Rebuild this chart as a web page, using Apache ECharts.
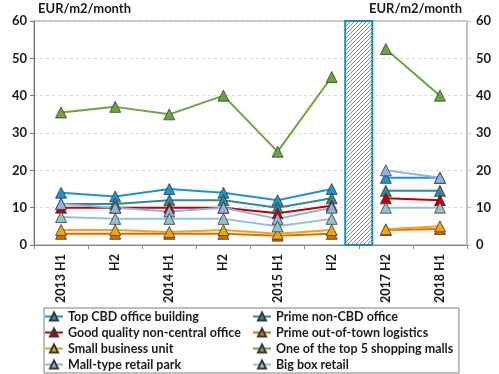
<!DOCTYPE html>
<html><head><meta charset="utf-8">
<script src="https://cdn.jsdelivr.net/npm/echarts@6/dist/echarts.min.js"></script>
<style>html,body{margin:0;padding:0;background:#fff}#c{width:499px;height:374px}</style>
</head><body><div id="c"></div>
<script>
const categories = ['2013 H1','H2','2014 H1','H2','2015 H1','H2','2017 H2','2018 H1'];
const yTicks = [0,10,20,30,40,50,60];
const unitLabel = 'EUR/m2/month';
// values per category; first 6 = 2013 H1..2015 H2, last 2 = 2017 H2, 2018 H1
const topCBD        = [14, 13, 15, 14, 12, 15, 18, 18];
const primeNonCBD   = [11, 11, 12, 12, 10, 12.5, 14.5, 14.5];
const goodQuality   = [10, 10, 10, 10, 8.5, 10.5, 12.5, 12];
const logistics     = [3, 3, 3, 3, 2.5, 3, 4, 4.3];
const smallBusiness = [4, 4, 3.5, 4, 3, 4, 4.2, 5];
const shoppingMalls = [35.5, 37, 35, 40, 25, 45, 52.5, 40];
const retailPark    = [11, 10, 9, 10, 7, 10, 20, 18];
const bigBox        = [7.5, 7, 7, 7, 5, 7, 10, 10];
const breakAfterIndex = 5; // gap between 2015 H2 and 2017 H2
const breakHeight = 60;

const seriesDefs = [
  ['Top CBD office building', topCBD, '#1a94d2'],
  ['Prime non-CBD office', primeNonCBD, '#36878f'],
  ['Good quality non-central office', goodQuality, '#c00000'],
  ['Prime out-of-town logistics', logistics, '#e06c08'],
  ['Small business unit', smallBusiness, '#eda516'],
  ['One of the top 5 shopping malls', shoppingMalls, '#66a83a'],
  ['Mall-type retail park', retailPark, '#8db4e2'],
  ['Big box retail', bigBox, '#94c2cc']
];

const series = [];
seriesDefs.forEach(([name, vals, color]) => {
  const left = vals.map((v, i) => i <= breakAfterIndex ? v : null);
  const right = vals.map((v, i) => i > breakAfterIndex ? v : null);
  [left, right].forEach(d => {
    series.push({
      name, type: 'line', data: d, yAxisIndex: 0,
      symbol: 'triangle', symbolSize: 11,
      lineStyle: { color, width: 2 },
      itemStyle: { color, borderColor: '#3a3a3a', borderWidth: 0.8 },
      connectNulls: false, animation: false
    });
  });
});

// hatched pattern
const pc = document.createElement('canvas');
pc.width = 4; pc.height = 4;
const g = pc.getContext('2d');
g.fillStyle = '#fff'; g.fillRect(0,0,4,4);
g.strokeStyle = '#8a8a8a'; g.lineWidth = 1;
g.beginPath();
g.moveTo(0,4); g.lineTo(4,0);
g.moveTo(-2,2); g.lineTo(2,-2);
g.moveTo(2,6); g.lineTo(6,2);
g.stroke();

series.push({
  type: 'custom', yAxisIndex: 0, z: 5, animation: false,
  data: [[breakAfterIndex, breakHeight]],
  renderItem: (params, api) => {
    const i = api.value(0);
    const top = api.coord([i, api.value(1)]);
    const nxt = api.coord([i + 1, 0]);
    const bw = api.size([1, 0])[0];
    const mid = (top[0] + nxt[0]) / 2;
    return {
      type: 'rect',
      shape: { x: mid - bw / 4, y: top[1], width: bw / 2, height: nxt[1] - top[1] },
      style: { fill: { image: pc, repeat: 'repeat' }, stroke: '#1f8ac0', lineWidth: 2 }
    };
  }
});

const font = 'Lato';
const leftNames = seriesDefs.filter((_, i) => i % 2 === 0).map(d => d[0]);
const rightNames = seriesDefs.filter((_, i) => i % 2 === 1).map(d => d[0]);
const legendCommon = {
  orient: 'vertical', itemWidth: 18, itemHeight: 10, itemGap: 3,
  textStyle: { fontFamily: font, fontWeight: 'bold', fontSize: 12.5, color: '#1a1a1a', lineHeight: 13 }
};

const chart = echarts.init(document.getElementById('c'), null, { renderer: 'canvas' });
chart.setOption({
  animation: false,
  grid: { left: 34, right: 32, top: 21, bottom: 129, show: true, borderColor: '#8a8a8a', borderWidth: 1 },
  xAxis: {
    type: 'category', data: categories, boundaryGap: true,
    axisLine: { lineStyle: { color: '#8a8a8a' } },
    axisTick: { show: true, length: 4, lineStyle: { color: '#8a8a8a' } },
    axisLabel: { rotate: 90, margin: 9, fontFamily: font, fontWeight: 'bold', fontSize: 12.5, color: '#1a1a1a' }
  },
  yAxis: [
    { type: 'value', min: 0, max: 60, interval: 10, position: 'left',
      name: unitLabel, nameLocation: 'end', nameGap: 6,
      nameTextStyle: { fontFamily: font, fontWeight: 'bold', fontSize: 13, color: '#1a1a1a', align: 'left', padding: [0,0,0,4] },
      axisLine: { show: true, lineStyle: { color: '#7a7a7a' } },
      axisTick: { show: true, length: 4, lineStyle: { color: '#7a7a7a' } },
      axisLabel: { margin: 7, fontFamily: font, fontWeight: 'bold', fontSize: 13, color: '#1a1a1a', formatter: v => yTicks.includes(v) ? String(v) : '' },
      splitLine: { lineStyle: { color: '#d9d9d9', type: [3, 3] } } },
    { type: 'value', min: 0, max: 60, interval: 10, position: 'right',
      name: unitLabel, nameLocation: 'end', nameGap: 6,
      nameTextStyle: { fontFamily: font, fontWeight: 'bold', fontSize: 13, color: '#1a1a1a', align: 'right', padding: [0,5,0,0] },
      axisLine: { show: true, lineStyle: { color: '#bfbfbf' } },
      axisTick: { show: true, length: 4, lineStyle: { color: '#bfbfbf' } },
      axisLabel: { margin: 9, fontFamily: font, fontWeight: 'bold', fontSize: 13, color: '#1a1a1a' },
      splitLine: { show: false } }
  ],
  legend: [
    Object.assign({}, legendCommon, { data: leftNames, left: 44, top: 308,
      padding: [2, 218, 2, 0], borderColor: '#7f7f7f', borderWidth: 1 }),
    Object.assign({}, legendCommon, { data: rightNames, left: 252, top: 310, padding: 0 })
  ],
  series
});
</script></body></html>
